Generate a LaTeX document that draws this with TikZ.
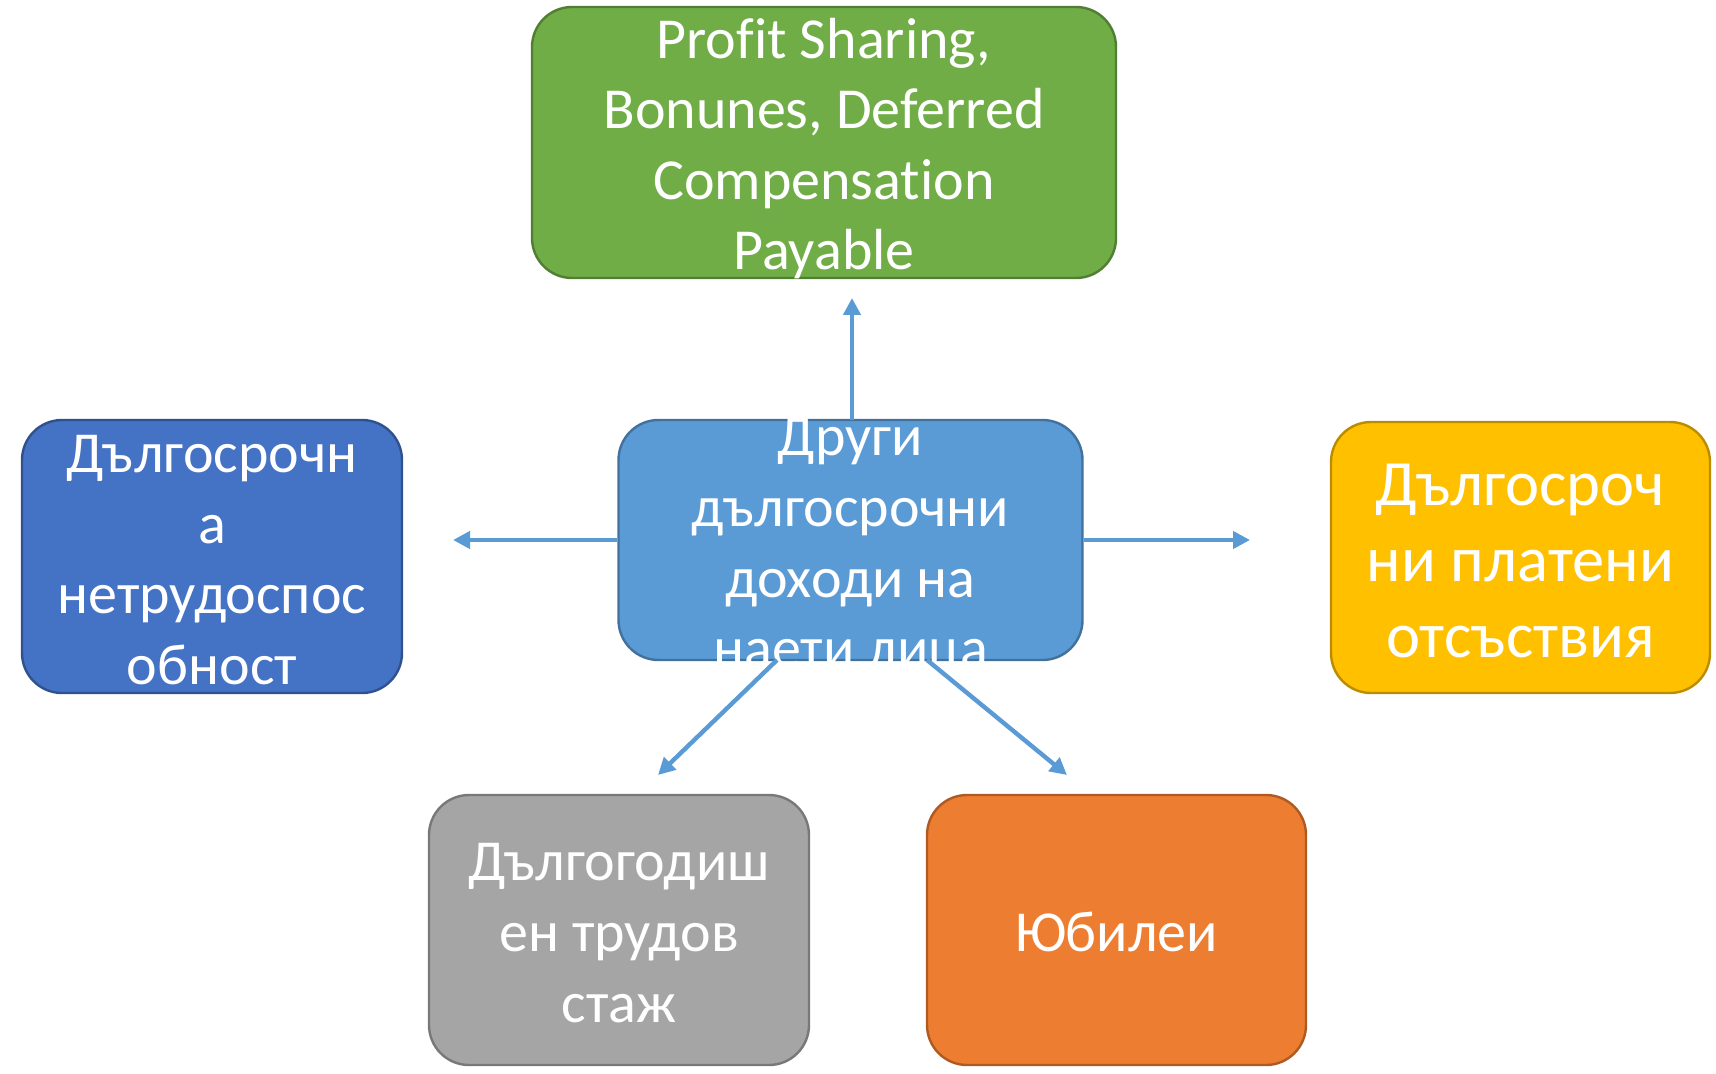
\documentclass[tikz,border=0pt]{standalone}
\usepackage{fontspec}
\setmainfont{Carlito}[Ligatures=NoCommon]
\usetikzlibrary{arrows.meta,calc}
\definecolor{cgreen}{HTML}{70AD47}\definecolor{bgreen}{HTML}{507E32}
\definecolor{cblue}{HTML}{5B9BD5}\definecolor{bblue}{HTML}{41719C}
\definecolor{cdblue}{HTML}{4472C4}\definecolor{bdblue}{HTML}{2F528F}
\definecolor{cyellow}{HTML}{FFC000}\definecolor{byellow}{HTML}{BC8C00}
\definecolor{cgray}{HTML}{A5A5A5}\definecolor{bgray}{HTML}{787878}
\definecolor{corange}{HTML}{ED7D31}\definecolor{borange}{HTML}{AE5A21}
\tikzset{
  box/.style={rectangle,rounded corners=20pt,line width=1.2pt,inner sep=0pt},
  txt/.style={text=white,align=center,font=\fontsize{29}{35.3}\selectfont,inner sep=0pt},
  bigtxt/.style={txt,font=\fontsize{32.3}{38.2}\selectfont},
  conn/.style={cblue,line width=2.2pt,-{Triangle[length=8.5pt,width=8.5pt]}}
}
\begin{document}
\begin{tikzpicture}[x=0.5pt,y=-0.5pt]
\useasboundingbox (0,0) rectangle (1716,1074);
% boxes
\node[box,fill=cgreen,draw=bgreen,minimum width=292pt,minimum height=135.5pt] (g) at (824,142.5) {};
\node[box,fill=cblue,draw=bblue,minimum width=232pt,minimum height=120pt] (c) at (850.5,540) {};
\node[box,fill=cdblue,draw=bdblue,minimum width=190pt,minimum height=136.5pt] (l) at (212,556.5) {};
\node[box,fill=cyellow,draw=byellow,minimum width=189.5pt,minimum height=135.5pt] (r) at (1520.5,557.5) {};
\node[box,fill=cgray,draw=bgray,minimum width=190pt,minimum height=135pt] (gr) at (619,930) {};
\node[box,fill=corange,draw=borange,minimum width=189.5pt,minimum height=135pt] (o) at (1116.5,930) {};
% texts
\node[txt] (gt) at (824,148.5) {Profit Sharing,\\Bonunes, Deferred\\Compensation\\Payable};
\node[txt] (ct) at (850.5,548) {Други\\дългосрочни\\доходи на\\наети лица};
\node[txt] (lt) at (212,560) {Дългосрочн\\а\\нетрудоспос\\обност};
\node[bigtxt] (rt) at (1520.5,561) {Дългосроч\\ни платени\\отсъствия};
\node[txt] (grt) at (619,933) {Дългогодиш\\ен трудов\\стаж};
\node[txt] (ot) at (1116.5,932) {Юбилеи};
% arrow ends
\coordinate (tu) at (852,298);
\coordinate (tl) at (453,540);
\coordinate (tr) at (1250,540);
\coordinate (tdl) at (658,775);
\coordinate (tdr) at (1067,775);
\coordinate (su) at (852,420);
\coordinate (sdl) at (777,660);
\coordinate (sdr) at (927,660);
\draw[conn] (su) -- (tu);
\draw[conn] (c.west) -- (tl);
\draw[conn] (c.east) -- (tr);
\draw[conn] (sdl) -- (tdl);
\draw[conn] (sdr) -- (tdr);
\end{tikzpicture}
\end{document}
